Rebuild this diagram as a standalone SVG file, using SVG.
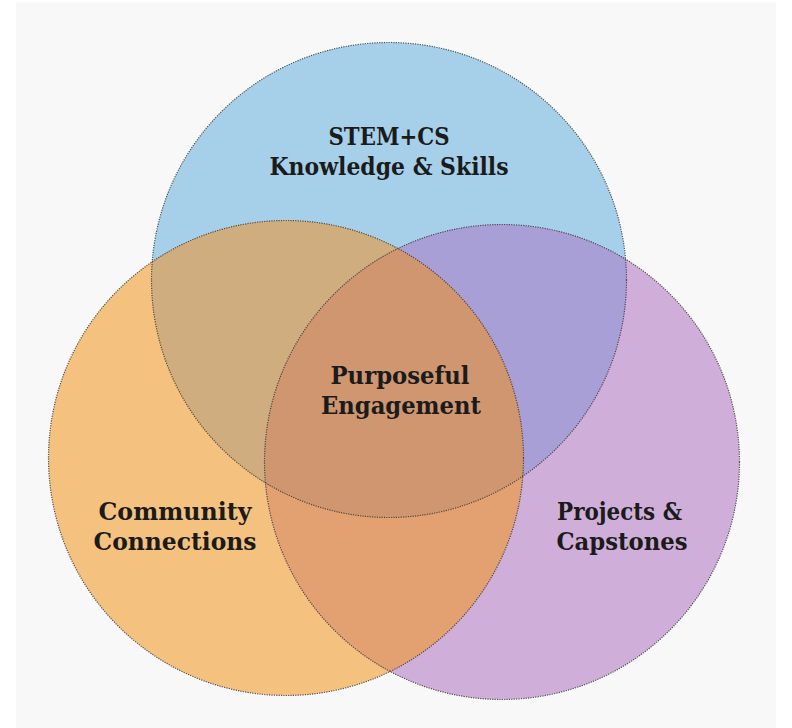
<svg xmlns="http://www.w3.org/2000/svg" width="792" height="728" viewBox="0 0 792 728">
  <defs>
    <clipPath id="clipBlue"><circle cx="389" cy="280" r="237.5"/></clipPath>
    <clipPath id="clipOrange"><circle cx="286" cy="458" r="237.5"/></clipPath>
    <clipPath id="clipPurple"><circle cx="502" cy="462" r="237.5"/></clipPath>
    <style>
      .outline { fill: none; stroke: #3a3a3a; stroke-width: 1.2; stroke-dasharray: 1.2 1.2; stroke-opacity: 0.85; }
      .label { font-family: "DejaVu Serif", "Liberation Serif", serif; font-weight: bold; font-size: 24px; fill: #1b1b1b; text-anchor: middle; }
    </style>
  </defs>
  <rect x="0" y="0" width="792" height="728" fill="#ffffff"/>
  <rect x="16" y="2" width="760" height="726" fill="#f8f8f8"/>

  <g id="circle-stem">
    <circle cx="389" cy="280" r="237.5" fill="#a6d0ea"/>
  </g>
  <g id="circle-community">
    <circle cx="286" cy="458" r="237.5" fill="#f5c17f"/>
  </g>
  <g id="circle-projects">
    <circle cx="502" cy="462" r="237.5" fill="#cfafd9"/>
  </g>

  <g id="overlaps">
    <circle cx="286" cy="458" r="237.5" fill="#d0ad7e" clip-path="url(#clipBlue)"/>
    <circle cx="502" cy="462" r="237.5" fill="#a89fd6" clip-path="url(#clipBlue)"/>
    <circle cx="502" cy="462" r="237.5" fill="#e3a070" clip-path="url(#clipOrange)"/>
    <g clip-path="url(#clipBlue)">
      <circle cx="502" cy="462" r="237.5" fill="#d09670" clip-path="url(#clipOrange)"/>
    </g>
  </g>

  <g id="outlines">
    <circle class="outline" cx="389" cy="280" r="237.5"/>
    <circle class="outline" cx="286" cy="458" r="237.5"/>
    <circle class="outline" cx="502" cy="462" r="237.5"/>
  </g>

  <g id="label-stem">
    <text class="label" x="389" y="145" textLength="121" lengthAdjust="spacingAndGlyphs">STEM+CS</text>
    <text class="label" x="389" y="175" textLength="239" lengthAdjust="spacingAndGlyphs">Knowledge &amp; Skills</text>
  </g>
  <g id="label-center">
    <text class="label" x="400" y="384" textLength="139" lengthAdjust="spacingAndGlyphs">Purposeful</text>
    <text class="label" x="401" y="414" textLength="160" lengthAdjust="spacingAndGlyphs">Engagement</text>
  </g>
  <g id="label-community">
    <text class="label" x="175" y="520" textLength="153" lengthAdjust="spacingAndGlyphs">Community</text>
    <text class="label" x="175" y="550" textLength="163" lengthAdjust="spacingAndGlyphs">Connections</text>
  </g>
  <g id="label-projects">
    <text class="label" x="619.5" y="520" textLength="125" lengthAdjust="spacingAndGlyphs">Projects &amp;</text>
    <text class="label" x="622" y="550" textLength="131" lengthAdjust="spacingAndGlyphs">Capstones</text>
  </g>
</svg>
